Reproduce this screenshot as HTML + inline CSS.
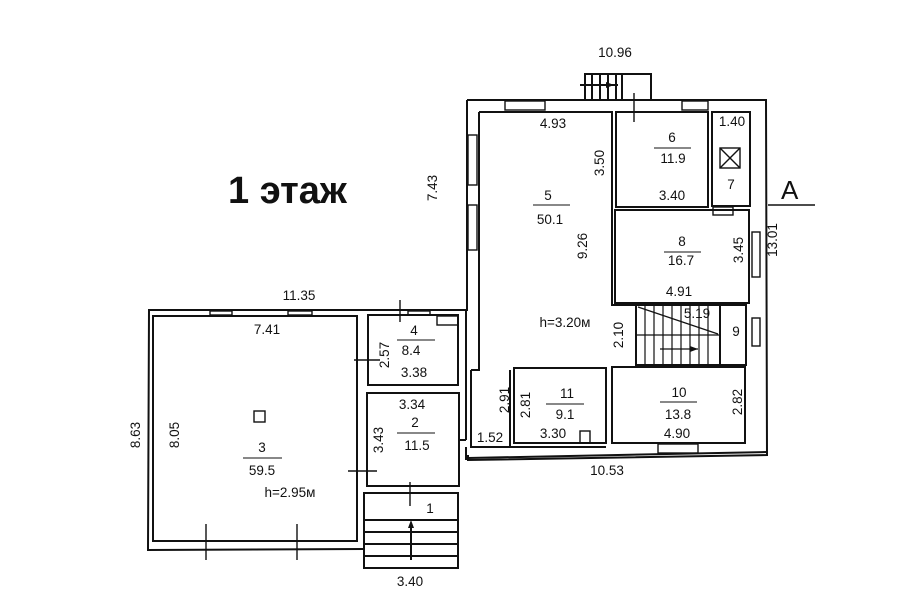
<!DOCTYPE html>
<html><head><meta charset="utf-8"><style>
html,body{margin:0;padding:0;background:#fff;}
svg{display:block}
text{font-family:"Liberation Sans",sans-serif;fill:#111;}
</style></head><body>
<svg width="899" height="600" viewBox="0 0 899 600" xmlns="http://www.w3.org/2000/svg">
<rect width="899" height="600" fill="#fff"/>
<g fill="none" stroke="#111" stroke-width="2">
<path d="M467 100 L766 100 L767 455 L468 460 L468 455"/>
<path d="M467 100 L467 310 L149 310 L148 550 L364 549"/>
<line x1="466" y1="310" x2="466" y2="440"/>
<line x1="466" y1="447" x2="466" y2="460"/>
<path d="M479 112 L612 112 L612 305 L636 305"/>
<path d="M479 112 L479 370 L471 370"/>
<rect x="616" y="112" width="92" height="95"/>
<rect x="712" y="112" width="38" height="94"/>
<rect x="615" y="210" width="134" height="93"/>
<rect x="636" y="305" width="110" height="60"/>
<line x1="720" y1="305" x2="720" y2="365"/>
<rect x="612" y="367" width="133" height="76"/>
<rect x="514" y="368" width="92" height="75"/>
<path d="M510 370 L510 447 L471 447 L471 370"/>
<line x1="468" y1="458" x2="767" y2="452"/>
<line x1="471" y1="447" x2="606" y2="447"/>
<rect x="153" y="316" width="204" height="225"/>
<rect x="368" y="315" width="90" height="70"/>
<rect x="367" y="393" width="92" height="93"/>
<rect x="364" y="493" width="94" height="75"/>
<line x1="460" y1="440" x2="466" y2="440"/>
<line x1="364" y1="520" x2="458" y2="520"/>
<line x1="364" y1="532" x2="458" y2="532"/>
<line x1="364" y1="544" x2="458" y2="544"/>
<line x1="364" y1="556" x2="458" y2="556"/>
<line x1="411" y1="560" x2="411" y2="527"/>
<rect x="585" y="74" width="66" height="26"/>
<line x1="592" y1="74" x2="592" y2="100"/><line x1="600" y1="74" x2="600" y2="100"/>
<line x1="608" y1="74" x2="608" y2="100"/><line x1="616" y1="74" x2="616" y2="100"/>
<line x1="622" y1="74" x2="622" y2="100"/>
<line x1="580" y1="85" x2="618" y2="85"/>
<g stroke-width="1.2">
<line x1="645" y1="305" x2="645" y2="365"/><line x1="654" y1="305" x2="654" y2="365"/>
<line x1="663" y1="305" x2="663" y2="365"/><line x1="672" y1="305" x2="672" y2="365"/>
<line x1="681" y1="305" x2="681" y2="365"/><line x1="690" y1="305" x2="690" y2="365"/>
<line x1="699" y1="305" x2="699" y2="365"/><line x1="708" y1="305" x2="708" y2="365"/>
<line x1="636" y1="335" x2="720" y2="335"/>
<line x1="638" y1="307" x2="718" y2="334"/>
<line x1="660" y1="349" x2="698" y2="349"/>
</g>
<g stroke-width="1.4">
<rect x="505" y="101" width="40" height="9"/><rect x="682" y="101" width="26" height="9"/>
<rect x="468" y="135" width="9" height="50"/><rect x="468" y="205" width="9" height="45"/>
<rect x="752" y="232" width="8" height="45"/><rect x="752" y="318" width="8" height="28"/>
<rect x="658" y="444" width="40" height="9"/>
<rect x="210" y="311" width="22" height="4"/><rect x="288" y="311" width="24" height="4"/>
<rect x="408" y="311" width="22" height="4"/>
<rect x="437" y="316" width="21" height="9"/>
<rect x="713" y="207" width="20" height="8"/>
<rect x="720" y="148" width="20" height="20"/>
<line x1="720" y1="148" x2="740" y2="168"/><line x1="740" y1="148" x2="720" y2="168"/>
<rect x="254" y="411" width="11" height="11"/>
<rect x="580" y="431" width="10" height="12"/>
</g>
<g stroke-width="1.4">
<line x1="634" y1="93" x2="634" y2="122"/>
<line x1="400" y1="300" x2="400" y2="322"/>
<line x1="354" y1="360" x2="380" y2="360"/>
<line x1="348" y1="471" x2="377" y2="471"/>
<line x1="410" y1="482" x2="410" y2="506"/>
<line x1="206" y1="524" x2="206" y2="560"/>
<line x1="297" y1="524" x2="297" y2="560"/>
<line x1="768" y1="205" x2="815" y2="205"/>
</g>
</g>
<g fill="#111">
<polygon points="411,520 408,528 414,528"/>
<polygon points="614,85 606,82 606,88"/>
<polygon points="698,349 690,346 690,352"/>
</g>
<text x="228" y="203" font-size="38" font-weight="bold" fill="#111">1 этаж</text>
<text x="781" y="199" font-size="26">A</text>
<g font-size="13.5" text-anchor="middle">
<text x="615" y="57">10.96</text>
<text x="553" y="128">4.93</text>
<text x="548" y="200">5</text><line x1="533" y1="205" x2="570" y2="205" stroke="#111"/>
<text x="550" y="224">50.1</text>
<text x="672" y="142">6</text><line x1="654" y1="148" x2="691" y2="148" stroke="#111"/>
<text x="673" y="163">11.9</text>
<text x="672" y="200">3.40</text>
<text x="732" y="126">1.40</text>
<text x="731" y="189">7</text>
<text x="682" y="246">8</text><line x1="664" y1="252" x2="701" y2="252" stroke="#111"/>
<text x="681" y="265">16.7</text>
<text x="679" y="296">4.91</text>
<text x="697" y="318">5.19</text>
<text x="736" y="336">9</text>
<text x="565" y="327">h=3.20м</text>
<text x="679" y="397">10</text><line x1="660" y1="402" x2="697" y2="402" stroke="#111"/>
<text x="678" y="419">13.8</text>
<text x="677" y="438">4.90</text>
<text x="567" y="398">11</text><line x1="546" y1="404" x2="584" y2="404" stroke="#111"/>
<text x="565" y="419">9.1</text>
<text x="553" y="438">3.30</text>
<text x="490" y="442">1.52</text>
<text x="607" y="475">10.53</text>
<text x="299" y="300">11.35</text>
<text x="267" y="334">7.41</text>
<text x="414" y="335">4</text><line x1="397" y1="340" x2="435" y2="340" stroke="#111"/>
<text x="411" y="355">8.4</text>
<text x="414" y="377">3.38</text>
<text x="412" y="409">3.34</text>
<text x="415" y="427">2</text><line x1="397" y1="433" x2="435" y2="433" stroke="#111"/>
<text x="417" y="450">11.5</text>
<text x="262" y="452">3</text><line x1="243" y1="458" x2="282" y2="458" stroke="#111"/>
<text x="262" y="475">59.5</text>
<text x="290" y="497">h=2.95м</text>
<text x="430" y="513" fill="#336">1</text>
<text x="410" y="586">3.40</text>
</g>
<g font-size="13.5" text-anchor="middle">
<text transform="translate(437,188) rotate(-90)">7.43</text>
<text transform="translate(587,246) rotate(-90)">9.26</text>
<text transform="translate(604,163) rotate(-90)">3.50</text>
<text transform="translate(743,250) rotate(-90)">3.45</text>
<text transform="translate(777,240) rotate(-90)">13.01</text>
<text transform="translate(623,335) rotate(-90)">2.10</text>
<text transform="translate(742,402) rotate(-90)">2.82</text>
<text transform="translate(509,400) rotate(-90)">2.91</text>
<text transform="translate(530,405) rotate(-90)">2.81</text>
<text transform="translate(389,355) rotate(-90)">2.57</text>
<text transform="translate(383,440) rotate(-90)">3.43</text>
<text transform="translate(179,435) rotate(-90)">8.05</text>
<text transform="translate(140,435) rotate(-90)">8.63</text>
</g>
</svg>
</body></html>
